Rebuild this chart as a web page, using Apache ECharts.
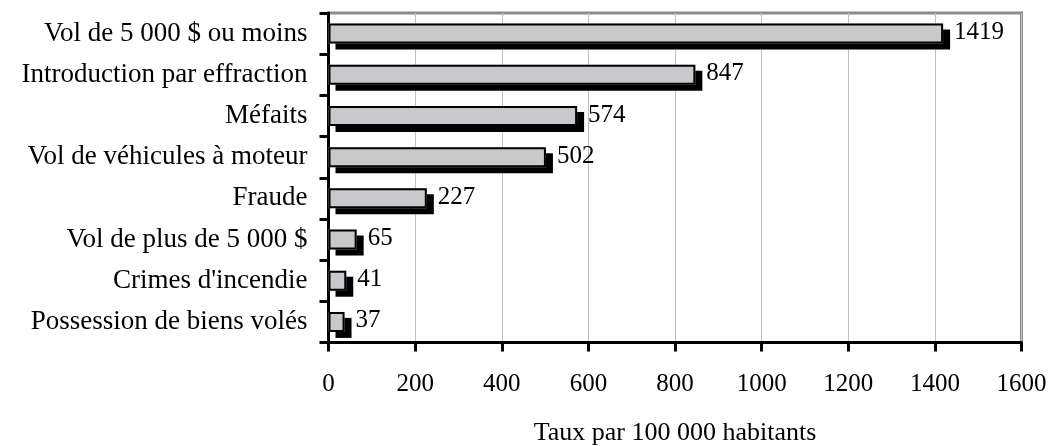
<!DOCTYPE html>
<html><head><meta charset="utf-8">
<script src="https://cdn.jsdelivr.net/npm/echarts@6/dist/echarts.min.js"></script>
<style>html,body{margin:0;padding:0;background:#fff}#c{width:1051px;height:446px}</style>
</head><body><div id="c"></div>
<script>
const categories = ["Vol de 5 000 $ ou moins","Introduction par effraction","Méfaits","Vol de véhicules à moteur","Fraude","Vol de plus de 5 000 $","Crimes d'incendie","Possession de biens volés"];
const values = [1419, 847, 574, 502, 227, 65, 41, 37];
const xTickStep = 200;
const xMax = 1600;
const axisTitle = "Taux par 100 000 habitants";

const font = "'Liberation Serif', 'DejaVu Serif', serif";
const chart = echarts.init(document.getElementById('c'), null, {renderer: 'canvas'});
chart.setOption({
  animation: false,
  grid: {left: 328.5, top: 13, right: 29.5, bottom: 103.5, outerBoundsMode: 'none', containLabel: false,
    show: true, borderColor: '#8c8c8c', borderWidth: 3, backgroundColor: 'transparent'},
  xAxis: {
    type: 'value', min: 0, max: xMax, interval: xTickStep,
    name: axisTitle, nameLocation: 'middle', nameGap: 78,
    nameTextStyle: {fontFamily: font, fontSize: 26, color: '#000'},
    axisLine: {show: true, lineStyle: {color: '#000', width: 3}},
    axisTick: {show: true, length: 9, lineStyle: {color: '#000', width: 3}},
    axisLabel: {fontFamily: font, fontSize: 25, color: '#000', margin: 29, formatter: v => String(v)},
    splitLine: {show: true, lineStyle: {color: '#c0c0c0', width: 1}}
  },
  yAxis: {
    type: 'category', data: categories, inverse: true,
    axisLine: {show: true, lineStyle: {color: '#000', width: 3}},
    axisTick: {show: true, length: 9, lineStyle: {color: '#000', width: 3}},
    axisLabel: {fontFamily: font, fontSize: 27, color: '#000', margin: 21, verticalAlign: 'middle', lineHeight: 27, padding: [6, 0, 0, 0]},
    splitLine: {show: false}
  },
  series: [{
    type: 'bar', data: values, barWidth: 20, z: 2,
    itemStyle: {color: '#c9c9cd', borderWidth: 0,
      shadowColor: '#000', shadowBlur: 0, shadowOffsetX: 7, shadowOffsetY: 6}
  }, {
    type: 'bar', data: values, barWidth: 20, barGap: '-100%', z: 3,
    itemStyle: {color: 'rgba(0,0,0,0)', borderColor: '#000', borderWidth: 2},
    label: {show: true, position: 'right', distance: 11, fontFamily: font, fontSize: 25, color: '#000', offset: [0, -1]}
  }]
});
</script></body></html>
